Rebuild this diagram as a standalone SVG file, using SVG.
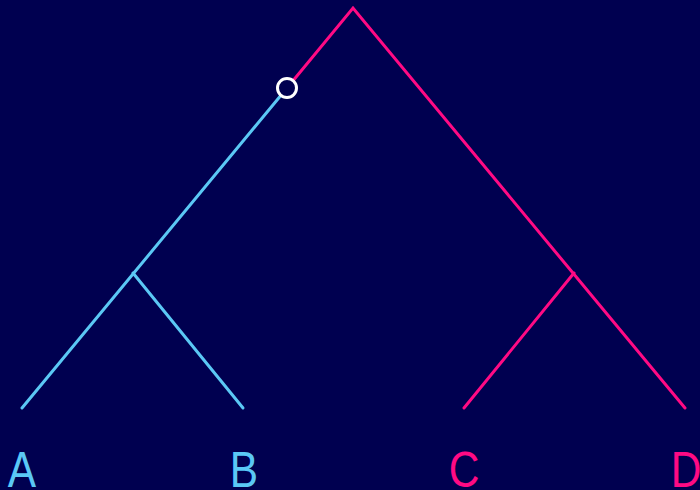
<svg xmlns="http://www.w3.org/2000/svg" width="700" height="490" viewBox="0 0 700 490">
<style>
.b{stroke:#5BC8F5;stroke-width:3;fill:none;stroke-linecap:round}
.p{stroke:#FF0A84;stroke-width:3;fill:none;stroke-linecap:round}
.lb{font-family:"Liberation Sans",Arial,sans-serif;font-size:50px;text-anchor:middle}
</style>
<rect width="700" height="490" fill="#000050"/>
<g id="connectors">
<path class="p" d="M287,88 L353,8 L685,408"/>
<path class="p" d="M574,273 L464,408"/>
<path class="b" d="M287,88 L22,408"/>
<path class="b" d="M133,273 L243,408"/>
</g>
<g id="root-marker"><circle cx="287" cy="88" r="9.5" fill="#000050" stroke="#FFFFFF" stroke-width="3"/></g>
<g id="A"><text class="lb" x="22" y="487" fill="#5BC8F5" transform="translate(22,0) scale(0.85,1) translate(-22,0)">A</text></g>
<g id="B"><text class="lb" x="244" y="487" fill="#5BC8F5" transform="translate(244,0) scale(0.85,1) translate(-244,0)">B</text></g>
<g id="C"><text class="lb" x="464" y="487" fill="#FF0A84" transform="translate(464,0) scale(0.85,1) translate(-464,0)">C</text></g>
<g id="D"><text class="lb" x="686" y="487" fill="#FF0A84" transform="translate(686,0) scale(0.85,1) translate(-686,0)">D</text></g>
</svg>
